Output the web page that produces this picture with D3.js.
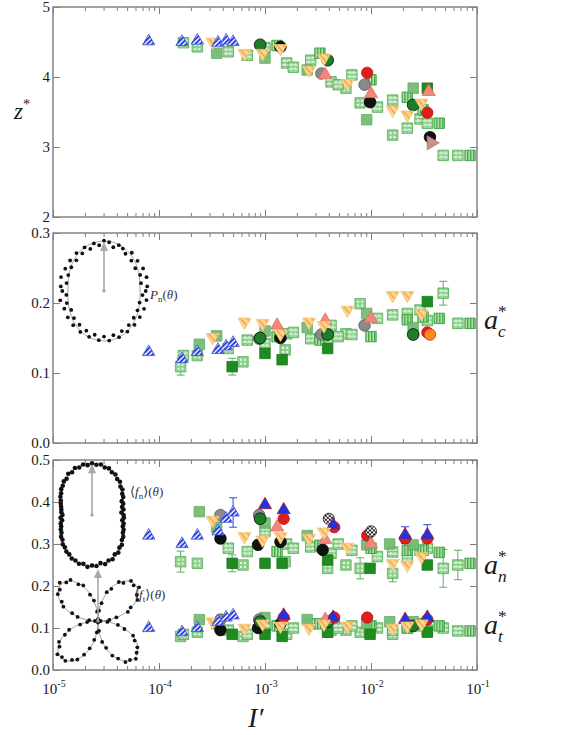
<!DOCTYPE html>
<html>
<head>
<meta charset="utf-8">
<script src="https://cdn.jsdelivr.net/npm/d3@7"></script>
<style>
  body { margin: 0; background: #fff; }
  svg text { font-family: "Liberation Serif", "Times New Roman", "DejaVu Serif", serif; }
</style>
</head>
<body>
<svg id="chart" width="576" height="735"></svg>
<script>
// ---- data: each row is [I', z*, a_c*, a_n*, a_t*] (null = not shown) ----
const dotSq = [
  [1.6e-4, null, 0.109, 0.258, 0.080],
  [2.3e-4, 4.43, 0.125, 0.254, 0.090],
  [6.2e-4, null, 0.116, 0.250, 0.080],
  [1.55e-3, null, 0.133, 0.258, 0.085],
  [3.9e-3, null, 0.149, 0.242, 0.090],
  [5.8e-3, 3.84, 0.156, 0.250, 0.095],
  [7.9e-3, 3.63, 0.199, 0.242, 0.090],
  [1.6e-2, 3.17, null, 0.230, 0.085]
];
const gridSq = [
  [1.7e-4, 4.49, 0.125, null, 0.085],
  [4.5e-4, 4.36, 0.135, 0.290, 0.095],
  [6.8e-4, 4.31, 0.147, 0.282, 0.085],
  [1.0e-3, 4.42, 0.142, 0.330, 0.100],
  [1.6e-3, 4.20, 0.156, 0.300, 0.085],
  [1.85e-3, 4.14, 0.158, 0.290, 0.100],
  [2.7e-3, 4.24, 0.149, 0.293, 0.110],
  [4.2e-3, 3.93, 0.168, 0.278, 0.095],
  [4.9e-3, 3.89, 0.152, 0.300, 0.100],
  [6.6e-3, 4.03, 0.155, 0.285, 0.105],
  [1.15e-2, 3.57, 0.178, 0.270, 0.100],
  [1.6e-2, 3.67, 0.183, 0.281, 0.095],
  [2.2e-2, 3.27, 0.185, 0.265, 0.100],
  [2.9e-2, 3.40, 0.190, 0.285, 0.105],
  [3.4e-2, 3.34, 0.175, 0.290, 0.095],
  [4.8e-2, 2.88, 0.214, 0.242, 0.100],
  [6.6e-2, 2.88, 0.171, 0.250, 0.093]
];
const stripeSq = [
  [1.3e-3, 4.45, 0.152, 0.282, 0.105],
  [3.3e-3, 4.34, 0.147, 0.297, 0.110],
  [1.0e-2, 3.96, 0.152, 0.290, 0.105],
  [2.2e-2, 3.71, 0.176, 0.285, 0.100],
  [3.1e-2, 3.53, 0.180, 0.285, 0.110],
  [4.4e-2, 3.34, 0.178, 0.280, 0.105],
  [8.6e-2, 2.88, 0.171, 0.254, 0.093]
];
const solidSq = [
  [2.4e-4, null, 0.141, 0.377, 0.120],
  [3.5e-4, 4.34, 0.153, 0.340, 0.110],
  [1.0e-3, 4.27, 0.160, 0.350, 0.125],
  [2.5e-3, 4.10, 0.165, 0.320, 0.120],
  [9.1e-3, 3.39, 0.185, 0.298, 0.110],
  [1.5e-2, null, null, 0.300, 0.115],
  [2.5e-2, 3.84, 0.165, 0.298, 0.115]
];
const darkSq = [
  [4.9e-4, null, 0.109, 0.254, 0.085],
  [1.0e-3, null, 0.128, 0.254, 0.085],
  [1.45e-3, null, 0.119, 0.254, 0.080],
  [3.9e-3, null, 0.135, 0.262, 0.090],
  [9.8e-3, null, null, 0.242, 0.085],
  [3.4e-2, 3.84, 0.202, 0.250, 0.090]
];
const blackCirc = [
  [3.8e-4, null, null, 0.313, 0.095],
  [8.6e-4, null, null, 0.298, 0.100],
  [1.4e-3, 4.43, 0.150, 0.305, 0.110],
  [3.5e-3, null, null, 0.286, null],
  [9.8e-3, 3.64, null, null, null],
  [3.6e-2, 3.14, null, null, null]
];
const grayCirc = [
  [3.8e-4, null, null, 0.369, 0.120],
  [8.8e-4, null, 0.149, 0.369, 0.120],
  [3.4e-3, 4.05, 0.155, null, null],
  [8.7e-3, 3.89, 0.168, null, null]
];
const greenCirc = [
  [9.0e-4, 4.46, 0.150, 0.360, 0.115],
  [3.9e-3, 4.24, 0.155, null, 0.115],
  [2.5e-2, 3.60, 0.155, null, 0.105]
];
const redCirc = [
  [1.5e-3, null, null, 0.360, 0.125],
  [4.5e-3, null, null, 0.340, 0.125],
  [9.2e-3, 4.06, null, 0.320, 0.125],
  [2.1e-2, null, null, 0.313, null],
  [3.4e-2, 3.49, 0.158, 0.313, 0.120]
];
const salmonTri = [
  [1.3e-3, null, 0.168, 0.340, null],
  [3.7e-3, 4.03, 0.175, 0.310, 0.120],
  [1.0e-2, 3.76, 0.178, 0.300, null],
  [3.5e-2, 3.79, null, null, null]
];
const orangeCirc = [
  [3.6e-2, null, 0.155, null, null]
];
const checkCirc = [
  [4.0e-3, null, null, 0.360, null],
  [1.0e-2, null, null, 0.330, null]
];
const blueSolidTri = [
  [1.0e-3, null, null, 0.393, null],
  [1.5e-3, null, null, 0.381, 0.130],
  [4.4e-3, null, null, 0.345, 0.125],
  [2.1e-2, null, null, 0.321, 0.120],
  [3.4e-2, null, null, 0.321, 0.125]
];
const yellowTri = [
  [3.2e-4, 4.50, 0.151, 0.357, 0.115],
  [6.4e-4, 4.34, 0.173, 0.318, 0.100],
  [9.5e-4, 4.34, 0.171, 0.310, 0.110],
  [1.4e-3, 4.41, 0.156, 0.318, 0.105],
  [2.6e-3, 4.10, 0.173, 0.314, 0.100],
  [3.6e-3, 4.27, 0.168, 0.329, 0.110],
  [6.0e-3, 3.91, 0.190, 0.293, 0.105],
  [1.6e-2, 3.53, 0.211, 0.254, 0.100],
  [2.2e-2, 3.46, 0.211, 0.250, 0.105],
  [3.0e-2, 3.63, 0.185, 0.270, 0.110]
];
const blueTri = [
  [8.0e-5, 4.51, 0.130, 0.320, 0.100],
  [1.65e-4, 4.50, 0.120, 0.300, 0.090],
  [2.3e-4, 4.52, 0.130, 0.320, 0.100],
  [3.6e-4, 4.49, 0.133, 0.330, 0.115],
  [4.3e-4, 4.52, 0.138, 0.360, 0.125],
  [5.0e-4, 4.50, 0.143, 0.375, 0.130]
];
const roseTri = [
  [3.7e-2, 3.06, null, null, null]
];

// error bars: [series, quantity, I', half width]
const errBars = [
  ["dotSq", "ac", 1.6e-4, 0.012],
  ["darkSq", "ac", 4.9e-4, 0.012],
  ["gridSq", "ac", 4.8e-2, 0.017],
  ["dotSq", "an", 1.6e-4, 0.025],
  ["blueTri", "an", 5.0e-4, 0.035],
  ["darkSq", "an", 4.9e-4, 0.020],
  ["dotSq", "an", 7.9e-3, 0.025],
  ["dotSq", "an", 1.6e-2, 0.020],
  ["gridSq", "an", 4.8e-2, 0.045],
  ["gridSq", "an", 6.6e-2, 0.035],
  ["blueSolidTri", "an", 2.1e-2, 0.020],
  ["blueSolidTri", "an", 3.4e-2, 0.025],
  ["dotSq", "at", 1.6e-4, 0.010]
];

// tick values
const iTicks = [1e-5, 1e-4, 1e-3, 1e-2, 1e-1];
const iExp = ["-5", "-4", "-3", "-2", "-1"];
const zTicks = [2, 3, 4, 5];
const acTicks = [0, 0.1, 0.2, 0.3];
const aTicks = [0, 0.1, 0.2, 0.3, 0.4, 0.5];

// polar insets: fit coefficients and binned dots (relative radius)
const pnCoef = 0.16;
const pnDots = [0.97,1.01,0.88,1.04,0.92,1.05,0.90,1.05,0.95,1.10,1.00,1.08,1.12,1.04,1.14,1.17,1.07,1.13,1.03,1.11,
  1.01,1.09,0.96,1.06,0.94,1.04,0.91,1.05,0.89,1.01,0.97,0.88,1.04,0.91,1.01,0.88,1.04,0.94,1.07,0.97,
  1.10,1.01,1.12,1.04,1.15,1.06,1.16,1.05,1.13,1.02,1.09,0.98,1.06,0.93,1.03,0.90,1.02,0.87,1.01,0.90];
const fnCoef = 0.26;
const fnDots = [0.77,0.72,0.78,0.76,0.81,0.80,0.88,0.90,0.97,0.98,1.06,1.07,1.14,1.15,1.21,1.20,1.25,1.23,
  1.26,1.22,1.25,1.20,1.22,1.15,1.16,1.08,1.07,1.01,0.98,0.92,0.89,0.84,0.81,0.78,0.76,0.75,
  0.72,0.77,0.74,0.79,0.80,0.84,0.86,0.92,0.94,1.01,1.03,1.09,1.11,1.17,1.18,1.23,1.21,1.27,
  1.23,1.25,1.19,1.24,1.18,1.19,1.11,1.12,1.04,1.03,0.95,0.93,0.87,0.85,0.80,0.80,0.75,0.78];
const ftDots = [0.05,0.22,0.36,0.60,0.68,0.86,0.90,1.02,0.97,1.00,0.88,0.85,0.67,0.58,0.35,0.20,
  0.04,0.18,0.40,0.53,0.74,0.80,0.95,0.96,1.04,0.95,0.93,0.79,0.72,0.52,0.40,0.17,
  0.06,0.21,0.35,0.58,0.69,0.85,0.89,1.01,0.98,0.99,0.90,0.84,0.70,0.55,0.37,0.22,
  0.03,0.19,0.41,0.54,0.72,0.82,0.95,0.97,1.03,0.96,0.91,0.80,0.73,0.53,0.39,0.18];

// ---- drawing ----
const svg = d3.select("#chart");
svg.append("rect").attr("width", 576).attr("height", 735).attr("fill", "#fff");

// fill patterns
const defs = svg.append("defs");
function pattern(id, w, h, bg, rot) {
  const p = defs.append("pattern").attr("id", id)
    .attr("patternUnits", "userSpaceOnUse").attr("width", w).attr("height", h);
  if (rot) p.attr("patternTransform", `rotate(${rot})`);
  p.append("rect").attr("width", w).attr("height", h).attr("fill", bg);
  return p;
}
let p = pattern("pGrid", 4, 4, "#86cc86");
p.append("rect").attr("x", 0).attr("y", 1.5).attr("width", 4).attr("height", 1).attr("fill", "#fff");
p.append("rect").attr("x", 1.5).attr("y", 0).attr("width", 1).attr("height", 2).attr("fill", "#fff");
p = pattern("pDot", 4, 4, "#8fcf8f");
p.append("circle").attr("cx", 2).attr("cy", 2).attr("r", 1.1).attr("fill", "#fff");
p = pattern("pStripe", 3, 3, "#3ea83e");
p.append("rect").attr("x", 1.6).attr("width", 1).attr("height", 3).attr("fill", "#fff");
p = pattern("pBlue", 3.4, 3.4, "#fff", 45);
p.append("rect").attr("width", 2).attr("height", 3.4).attr("fill", "#2a3ed6");
p = pattern("pYellow", 5, 5, "#fcd592", -40);
p.append("rect").attr("width", 1.3).attr("height", 5).attr("fill", "#f0a03a");
p = pattern("pCheck", 4, 4, "#fff");
p.append("rect").attr("width", 2).attr("height", 2).attr("fill", "#222");
p.append("rect").attr("x", 2).attr("y", 2).attr("width", 2).attr("height", 2).attr("fill", "#222");

const sq = d3.symbolSquare, ci = d3.symbolCircle, tr = d3.symbolTriangle;
const styles = {
  dotSq:        { rows: dotSq, shape: sq, size: 110, fill: "url(#pDot)", stroke: "#55ad55", err: "#5cb05c" },
  gridSq:       { rows: gridSq, shape: sq, size: 110, fill: "url(#pGrid)", stroke: "#4aa84a", err: "#5cb05c" },
  stripeSq:     { rows: stripeSq, shape: sq, size: 110, fill: "url(#pStripe)", stroke: "#2f9a2f" },
  solidSq:      { rows: solidSq, shape: sq, size: 110, fill: "#6fbb6f", stroke: "#5aa35a", op: 0.92 },
  darkSq:       { rows: darkSq, shape: sq, size: 110, fill: "#1f8c1f", stroke: "#1a761a", err: "#5cb05c" },
  blackCirc:    { rows: blackCirc, shape: ci, size: 105, fill: "#111", stroke: "#000" },
  grayCirc:     { rows: grayCirc, shape: ci, size: 105, fill: "#8a8a8a", stroke: "#555" },
  greenCirc:    { rows: greenCirc, shape: ci, size: 110, fill: "#1e7d28", stroke: "#0b0b0b" },
  redCirc:      { rows: redCirc, shape: ci, size: 100, fill: "#e11d1d", stroke: "#b51010" },
  salmonTri:    { rows: salmonTri, shape: tr, size: 75, fill: "#f2887a", stroke: "#e07060" },
  orangeCirc:   { rows: orangeCirc, shape: ci, size: 105, fill: "#ff8c1a", stroke: "#d02020" },
  checkCirc:    { rows: checkCirc, shape: ci, size: 100, fill: "url(#pCheck)", stroke: "#222" },
  blueSolidTri: { rows: blueSolidTri, shape: tr, size: 75, fill: "#1d34e0", stroke: "#b31b2a", err: "#3048d8" },
  yellowTri:    { rows: yellowTri, shape: tr, size: 75, rot: 180, fill: "url(#pYellow)", stroke: "#f3c478" },
  blueTri:      { rows: blueTri, shape: tr, size: 66, fill: "url(#pBlue)", stroke: "#3a4ee0", err: "#3048d8" },
  roseTri:      { rows: roseTri, shape: tr, size: 85, rot: 90, fill: "#c8908a", stroke: "#b07a74" }
};
const drawOrder = ["dotSq", "gridSq", "stripeSq", "solidSq", "darkSq", "blackCirc", "grayCirc", "greenCirc",
  "redCirc", "salmonTri", "orangeCirc", "checkCirc", "blueSolidTri", "yellowTri", "blueTri", "roseTri"];

const x = d3.scaleLog().domain([1e-5, 1e-1]).range([53, 477]);
const minor = [];
[1e-5, 1e-4, 1e-3, 1e-2].forEach(d => { for (let m = 2; m <= 9; m++) minor.push(m * d); });

const panels = [
  { top: 7, bottom: 217, domain: [2, 5], ticks: zTicks, fmt: d3.format("d"), cols: { z: 1 } },
  { top: 233, bottom: 443, domain: [0, 0.3], ticks: acTicks, fmt: d3.format(".1f"), cols: { ac: 2 } },
  { top: 460, bottom: 670, domain: [0, 0.5], ticks: aTicks, fmt: d3.format(".1f"), cols: { an: 3, at: 4 } }
];

function tidy(g) {
  g.attr("font-family", null);
  g.select(".domain").remove();
  g.selectAll("line").attr("stroke", "#7d7d7d").attr("stroke-width", 1);
  g.selectAll("text").attr("font-size", 15).attr("fill", "#1a1a1a");
}

panels.forEach(pn => {
  const y = d3.scaleLinear().domain(pn.domain).range([pn.bottom, pn.top]);
  pn.y = y;
  const g = svg.append("g");

  g.append("g").attr("transform", `translate(0,${pn.bottom})`)
    .call(d3.axisBottom(x).tickValues(iTicks).tickSize(-7).tickFormat("")).call(tidy);
  g.append("g").attr("transform", `translate(0,${pn.bottom})`)
    .call(d3.axisBottom(x).tickValues(minor).tickSize(-4).tickFormat("")).call(tidy);
  g.append("g").attr("transform", `translate(0,${pn.top})`)
    .call(d3.axisTop(x).tickValues(iTicks).tickSize(-7).tickFormat("")).call(tidy);
  g.append("g").attr("transform", `translate(0,${pn.top})`)
    .call(d3.axisTop(x).tickValues(minor).tickSize(-4).tickFormat("")).call(tidy);
  g.append("g").attr("transform", "translate(53,0)")
    .call(d3.axisLeft(y).tickValues(pn.ticks).tickSize(-7).tickPadding(3).tickFormat(pn.fmt)).call(tidy);
  g.append("g").attr("transform", "translate(477,0)")
    .call(d3.axisRight(y).tickValues(pn.ticks).tickSize(-7).tickFormat("")).call(tidy);

  g.append("rect").attr("x", 53).attr("y", pn.top)
    .attr("width", 424).attr("height", pn.bottom - pn.top)
    .attr("fill", "none").attr("stroke", "#848484").attr("stroke-width", 1.5);
});

// x tick labels (bottom panel)
const xl = svg.append("g").attr("fill", "#1a1a1a");
iTicks.forEach((v, k) => {
  const t = xl.append("text").attr("x", x(v) + 1).attr("y", 694).attr("text-anchor", "middle").attr("font-size", 15);
  t.append("tspan").text("10");
  t.append("tspan").attr("dy", -7).attr("font-size", 10).text(iExp[k]);
});

// ---- polar insets ----
const inset = svg.append("g");
const radial = d3.lineRadial().curve(d3.curveLinearClosed);
const fine = d3.range(0, 2 * Math.PI, Math.PI / 180);
function polarCurve(cx, cy, scale, fn) {
  inset.append("path")
    .attr("transform", `translate(${cx},${cy})`)
    .attr("d", radial.angle(t => Math.PI / 2 - t).radius(t => scale * fn(t))(fine))
    .attr("fill", "none").attr("stroke", "#9a9a9a").attr("stroke-width", 1);
}
function polarDots(cx, cy, scale, vals, rad) {
  const n = vals.length;
  inset.append("g").selectAll("circle").data(vals).join("circle")
    .attr("cx", (r, k) => cx + scale * r * Math.cos(k * 2 * Math.PI / n))
    .attr("cy", (r, k) => cy - scale * r * Math.sin(k * 2 * Math.PI / n))
    .attr("r", rad).attr("fill", "#111");
}
function arrow(x0, y0, x1, y1) {
  inset.append("line").attr("x1", x0).attr("y1", y0).attr("x2", x1).attr("y2", y1 + 6)
    .attr("stroke", "#a8a8a8").attr("stroke-width", 1.6);
  inset.append("path").attr("d", `M${x1},${y1}L${x1 - 4},${y1 + 9}L${x1 + 4},${y1 + 9}Z`).attr("fill", "#a8a8a8");
  inset.append("circle").attr("cx", x0).attr("cy", y0).attr("r", 1.6).attr("fill", "#a0a0a0");
}
function label(xp, yp, main, sub, bracket) {
  const t = inset.append("text").attr("x", xp).attr("y", yp)
    .attr("font-size", 13).attr("fill", "#333");
  if (bracket) t.append("tspan").text("\u27e8");
  t.append("tspan").attr("font-style", "italic").text(main);
  t.append("tspan").attr("dy", 3).attr("font-size", 9).text(sub);
  t.append("tspan").attr("dy", -3).text((bracket ? "\u27e9" : "") + "(");
  t.append("tspan").attr("font-style", "italic").text("\u03b8");
  t.append("tspan").text(")");
}

// P_n(theta)
const pnC = [104, 291], pnS = 43;
polarCurve(pnC[0], pnC[1], pnS, t => 1 - pnCoef * Math.cos(2 * t));
polarDots(pnC[0], pnC[1], pnS, pnDots, 1.9);
arrow(pnC[0], pnC[1], pnC[0], pnC[1] - pnS * (1 + pnCoef) + 1);
label(150, 299, "P", "n", false);

// <f_n>(theta)
const fnC = [92, 515], fnS = 41;
polarCurve(fnC[0], fnC[1], fnS, t => 1 - fnCoef * Math.cos(2 * t));
polarDots(fnC[0], fnC[1], fnS, fnDots, 2.3);
arrow(fnC[0], fnC[1], fnC[0], fnC[1] - fnS * (1 + fnCoef) + 1);
label(130, 496, "f", "n", true);

// <f_t>(theta)
const ftC = [98, 621], ftS = 52;
polarCurve(ftC[0], ftC[1], ftS, t => Math.abs(Math.sin(2 * t)));
polarDots(ftC[0], ftC[1], ftS, ftDots, 1.9);
arrow(ftC[0], ftC[1], ftC[0], 569);
label(134, 599, "f", "t", true);

// ---- error bars ----
const qCol = { z: 1, ac: 2, an: 3, at: 4 };
const qPanel = { z: 0, ac: 1, an: 2, at: 2 };
const eg = svg.append("g");
errBars.forEach(([s, q, iv, e]) => {
  const row = styles[s].rows.find(r => r[0] === iv);
  if (!row) return;
  const y = panels[qPanel[q]].y, v = row[qCol[q]], xp = x(iv);
  const col = styles[s].err || "#5cb05c";
  eg.append("line").attr("x1", xp).attr("x2", xp).attr("y1", y(v - e)).attr("y2", y(v + e))
    .attr("stroke", col).attr("stroke-width", 1);
  [v - e, v + e].forEach(w => eg.append("line").attr("x1", xp - 4).attr("x2", xp + 4)
    .attr("y1", y(w)).attr("y2", y(w)).attr("stroke", col).attr("stroke-width", 1));
});

// ---- markers ----
const mg = svg.append("g");
drawOrder.forEach(name => {
  const st = styles[name];
  const sym = d3.symbol().type(st.shape).size(st.size);
  panels.forEach(pn => {
    Object.values(pn.cols).forEach(c => {
      const pts = st.rows.filter(r => r[c] != null);
      mg.append("g").selectAll("path").data(pts).join("path")
        .attr("transform", r => `translate(${x(r[0])},${pn.y(r[c])}) rotate(${st.rot || 0})`)
        .attr("d", sym)
        .attr("fill", st.fill).attr("stroke", st.stroke).attr("stroke-width", 0.8)
        .attr("opacity", st.op || 1);
    });
  });
});

// ---- axis titles ----
const tt = svg.append("g").attr("fill", "#1a1a1a");
function starLabel(xp, yp, base, sub, size) {
  const t = tt.append("text").attr("x", xp).attr("y", yp).attr("font-size", size);
  t.append("tspan").attr("font-style", "italic").text(base);
  t.append("tspan").attr("dy", -size * 0.42).attr("font-size", size * 0.62).text("*");
  if (sub) {
    t.append("tspan").attr("x", xp + size * 0.5).attr("dy", size * 0.7).attr("font-size", size * 0.62)
      .attr("font-style", "italic").text(sub);
  }
}
starLabel(14, 119, "z", null, 23);
starLabel(484, 329, "a", "c", 28);
starLabel(484, 574, "a", "n", 28);
starLabel(484, 634, "a", "t", 28);
tt.append("text").attr("x", 248).attr("y", 727).attr("font-size", 28)
  .attr("font-style", "italic").text("I\u2032");
</script>
</body>
</html>
